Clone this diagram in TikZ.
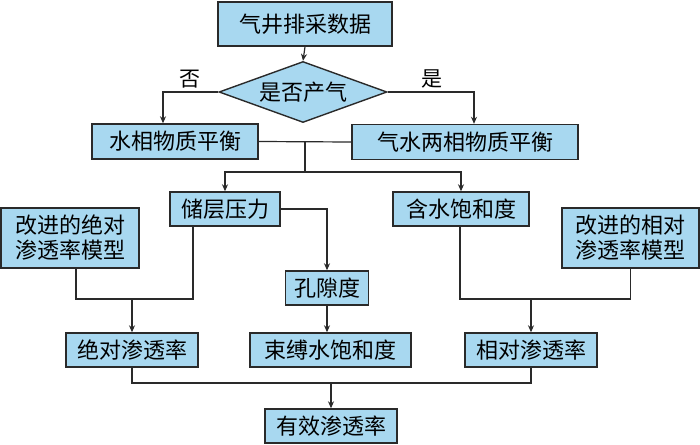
\documentclass[tikz,border=0pt]{standalone}
\usepackage{fontspec}
\setmainfont{Noto Sans CJK SC}
\usetikzlibrary{shapes.geometric,arrows.meta}
\definecolor{boxfill}{HTML}{A8D8F0}
\definecolor{boxline}{HTML}{2A2A2A}
\tikzset{
  box/.style={draw=boxline,line width=1.4pt,fill=boxfill,inner sep=0pt,align=center,font=\fontsize{22}{25}\selectfont},
  dia/.style={box,shape=diamond,aspect=2.8},
  conn/.style={draw=boxline,line width=1.2pt},
  arr/.style={conn,-{Stealth[length=7pt,width=6pt]}},
  lbl/.style={font=\fontsize{21}{22}\selectfont,inner sep=0pt}
}
\begin{document}
\begin{tikzpicture}[x=1pt,y=-1pt]
\useasboundingbox (0,0) rectangle (700,444);
\node[box,minimum width=174pt,minimum height=44pt] (top) at (305,24) {气井排采数据};
\node[dia,minimum width=168pt,minimum height=61pt] (dec) at (303,92) {是否产气};
\node[box,minimum width=166pt,minimum height=35pt] (L1) at (175,141.5) {水相物质平衡};
\node[box,minimum width=226pt,minimum height=35pt] (R1) at (465,142) {气水两相物质平衡};
\node[box,minimum width=110pt,minimum height=34pt] (P) at (225,209) {储层压力};
\node[box,minimum width=136pt,minimum height=34pt] (S) at (461,209) {含水饱和度};
\node[box,minimum width=138pt,minimum height=60pt] (A0) at (70,238) {改进的绝对\\渗透率模型};
\node[box,minimum width=137pt,minimum height=60pt] (B0) at (630.5,238) {改进的相对\\渗透率模型};
\node[box,minimum width=83pt,minimum height=34pt] (K) at (327,288) {孔隙度};
\node[box,minimum width=132pt,minimum height=34pt] (A) at (132,350) {绝对渗透率};
\node[box,minimum width=161pt,minimum height=34pt] (W) at (330.5,350) {束缚水饱和度};
\node[box,minimum width=132pt,minimum height=34pt] (B) at (531,350) {相对渗透率};
\node[box,minimum width=132pt,minimum height=34pt] (E) at (331,426) {有效渗透率};
\node[lbl] (no) at (190,79) {否};
\node[lbl] (yes) at (432,79) {是};
% connectors
\draw[arr] (top.south) -- (dec.north);
\draw[arr] (dec.west) -| ([xshift=-12pt]L1.north);
\draw[arr] (dec.east) -| ([xshift=9pt]R1.north);
\draw[conn] (L1.east) -- (R1.west);
\coordinate (j1) at (305,141.5);
\coordinate (j2) at (305,172);
\draw[conn] (j1) -- (j2);
\draw[arr] (j2) -| (P.north);
\draw[arr] (j2) -| (S.north);
\draw[arr] (P.east) -| (K.north);
\draw[arr] (K.south) -- (K.south |- W.north);
\coordinate (ja) at (132,299);
\draw[conn] ([xshift=6pt]A0.south) |- (ja) -| ([xshift=-32pt]P.south);
\draw[arr] (ja) -- (A.north);
\coordinate (jb) at (531,299);
\draw[conn] ([xshift=-1pt]S.south) |- (jb) -| (B0.south);
\draw[arr] (jb) -- (B.north);
\coordinate (je) at (331,383);
\draw[conn] (A.south) |- (je) -| (B.south);
\draw[arr] (je) -- (E.north);
\end{tikzpicture}
\end{document}
